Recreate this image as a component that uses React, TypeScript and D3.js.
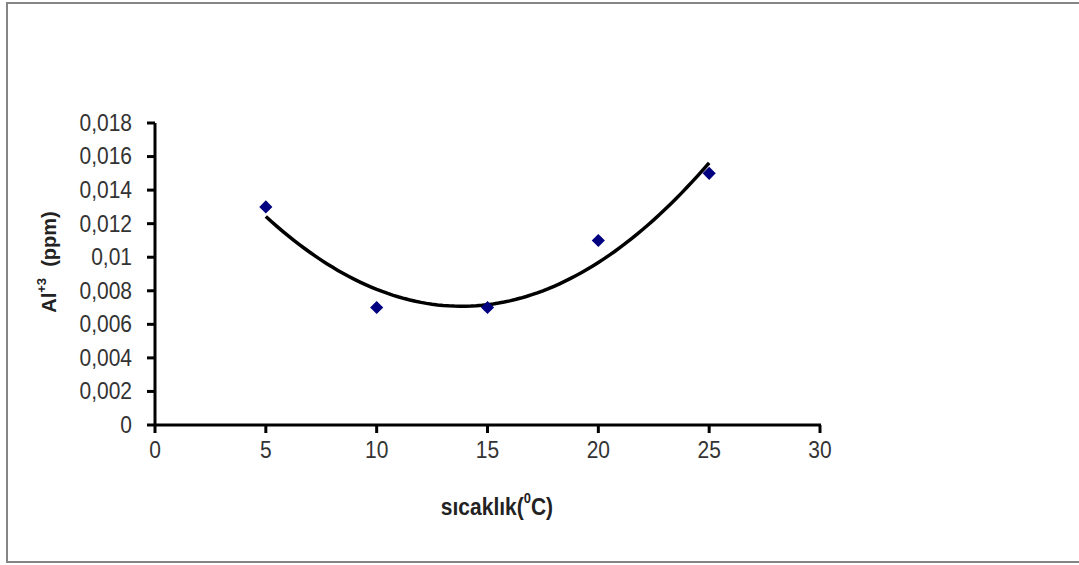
import React from "react";
import * as d3 from "d3";

const temps = [5, 10, 15, 20, 25];
const alValues = [0.013, 0.007, 0.007, 0.011, 0.015];
const xTicks = [0, 5, 10, 15, 20, 25, 30];
const yTicks = [0, 0.002, 0.004, 0.006, 0.008, 0.01, 0.012, 0.014, 0.016, 0.018];

const W = 1079;
const H = 565;

// least-squares quadratic (Excel polynomial trendline, order 2)
function quadFit(xs: number[], ys: number[]) {
  const n = xs.length;
  let s = [0, 0, 0, 0, 0];
  let t = [0, 0, 0];
  for (let i = 0; i < n; i++) {
    const x = xs[i];
    for (let k = 0; k < 5; k++) s[k] += Math.pow(x, k);
    for (let k = 0; k < 3; k++) t[k] += ys[i] * Math.pow(x, k);
  }
  const A = [
    [s[0], s[1], s[2], t[0]],
    [s[1], s[2], s[3], t[1]],
    [s[2], s[3], s[4], t[2]],
  ];
  for (let i = 0; i < 3; i++) {
    let p = i;
    for (let r = i + 1; r < 3; r++) if (Math.abs(A[r][i]) > Math.abs(A[p][i])) p = r;
    [A[i], A[p]] = [A[p], A[i]];
    for (let r = 0; r < 3; r++) {
      if (r === i) continue;
      const f = A[r][i] / A[i][i];
      for (let c = i; c < 4; c++) A[r][c] -= f * A[i][c];
    }
  }
  const c = A.map((row, i) => row[3] / row[i]);
  return (x: number) => c[0] + c[1] * x + c[2] * x * x;
}

export default function App() {
  const x = d3.scaleLinear().domain([0, 30]).range([155, 820]);
  const y = d3.scaleLinear().domain([0, 0.018]).range([425, 123]);
  const fit = quadFit(temps, alValues);
  const fitPts = d3.range(5, 25.001, 0.25).map((v) => [v, fit(v)] as [number, number]);
  const line = d3
    .line<[number, number]>()
    .x((d) => x(d[0]))
    .y((d) => y(d[1]))
    .curve(d3.curveLinear);
  const fmt = (v: number) => String(v).replace(".", ",");
  const font = "'Liberation Sans', Arial, sans-serif";
  const diamond = d3.symbol().type(d3.symbolDiamond2).size(110)() as string;
  const xLabY = 450;

  return (
    <svg
      width={W}
      height={H}
      style={{ position: "absolute", left: 0, top: 0, background: "#fff" }}
      fontFamily={font}
    >
      <path
        d={`M${W} 3 H7 V562 H${W}`}
        fill="none"
        stroke="#858585"
        strokeWidth={2}
      />
      {/* axes */}
      <line x1={x(0)} x2={x(0)} y1={y(0.018)} y2={y(0) + 1} stroke="#000" strokeWidth={3} />
      <line x1={x(0) - 1} x2={x(30) + 1} y1={y(0)} y2={y(0)} stroke="#000" strokeWidth={3} />
      {yTicks.map((t) => (
        <g key={"y" + t}>
          <line x1={x(0) - 8} x2={x(0)} y1={y(t)} y2={y(t)} stroke="#000" strokeWidth={3} />
          <text
            x={132}
            y={y(t)}
            textAnchor="end"
            dominantBaseline="central"
            fontSize={21}
            fill="#333"
            transform={`translate(0 ${y(t)}) scale(1 1.1) translate(0 ${-y(t)})`}
          >
            {fmt(t)}
          </text>
        </g>
      ))}
      {xTicks.map((t) => (
        <g key={"x" + t}>
          <line x1={x(t)} x2={x(t)} y1={y(0)} y2={y(0) + 8} stroke="#000" strokeWidth={3} />
          <text
            x={x(t)}
            y={xLabY}
            textAnchor="middle"
            dominantBaseline="central"
            fontSize={21}
            fill="#333"
            transform={`translate(0 ${xLabY}) scale(1 1.1) translate(0 ${-xLabY})`}
          >
            {fmt(t)}
          </text>
        </g>
      ))}
      {/* trendline */}
      <path d={line(fitPts) as string} fill="none" stroke="#000" strokeWidth={3.5} />
      {/* points */}
      {temps.map((t, i) => (
        <path
          key={"p" + i}
          d={diamond}
          transform={`translate(${x(t)},${y(alValues[i])})`}
          fill="#000080"
        />
      ))}
      {/* axis titles */}
      <text
        x={497}
        y={507}
        textAnchor="middle"
        dominantBaseline="central"
        fontSize={21}
        fontWeight="bold"
        fill="#222"
        transform="translate(0 507) scale(1 1.1) translate(0 -507)"
      >
        sıcaklık(
        <tspan fontSize={13} dy={-8}>0</tspan>
        <tspan dy={8}>C)</tspan>
      </text>
      <text
        transform="translate(49 262) rotate(-90)"
        textAnchor="middle"
        dominantBaseline="central"
        fontSize={20}
        fontWeight="bold"
        fill="#222"
      >
        Al
        <tspan fontSize={13} dy={-8}>+3</tspan>
        <tspan dy={8} xmlSpace="preserve">{"  (ppm)"}</tspan>
      </text>
    </svg>
  );
}
